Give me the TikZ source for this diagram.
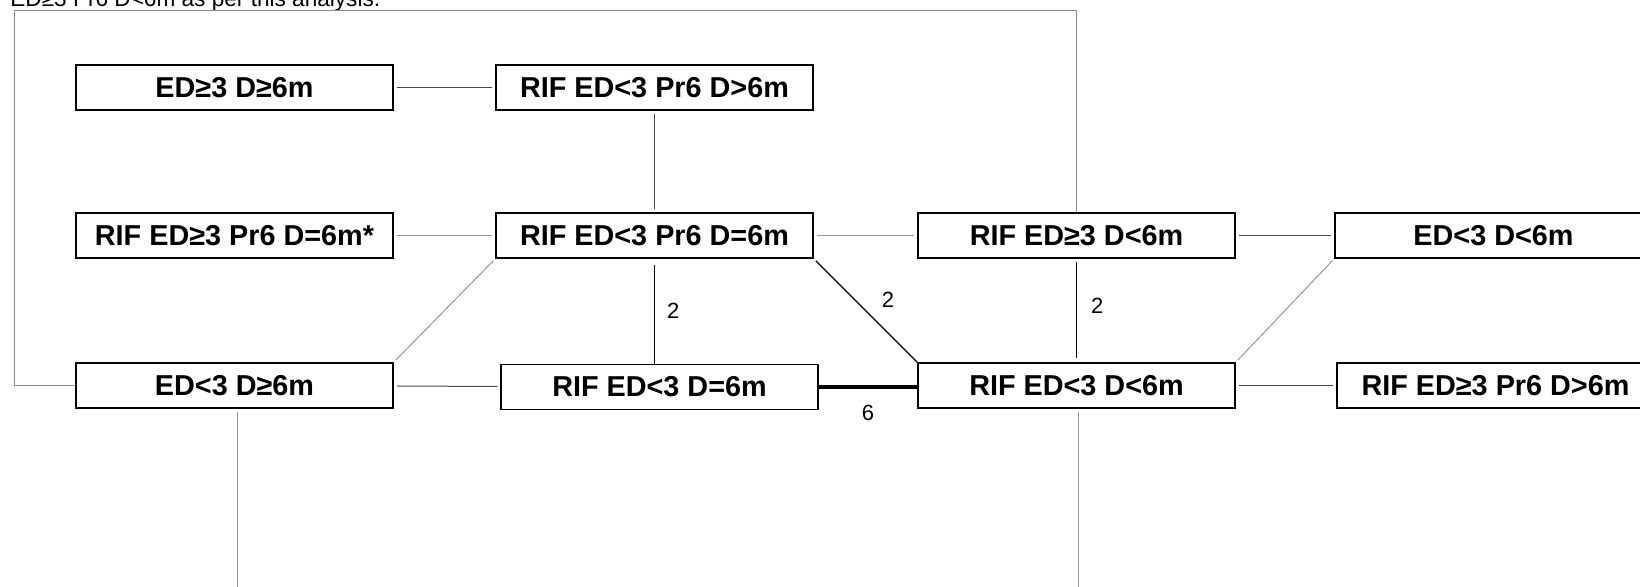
\documentclass[tikz,border=0pt]{standalone}
\usepackage{xcolor}
\usepackage{fontspec}
\usepackage{tikz}
\setmainfont{Liberation Sans}
\definecolor{framegray}{RGB}{140,140,140}
\definecolor{lightline}{RGB}{150,150,150}
\definecolor{darkline}{RGB}{70,70,70}

\tikzset{
  statebox/.style={draw=black,line width=0.75pt,fill=white,minimum width=158.5pt,minimum height=22.5pt,inner sep=0pt,font=\fontsize{14.4}{17}\selectfont\bfseries},
  lightedge/.style={draw=lightline,line width=0.5pt,shorten <=1.5pt,shorten >=1.5pt},
  darkedge/.style={draw=darkline,line width=0.5pt,shorten <=1.5pt,shorten >=1.5pt},
  countedge/.style={draw=black,line width=0.6pt,shorten <=1.5pt},
  countlabel/.style={font=\fontsize{11}{13}\selectfont,inner sep=1pt}
}

\begin{document}
\begin{tikzpicture}[x=0.5pt,y=-0.5pt]
\useasboundingbox (0,0) rectangle (1640,587);
\clip (0,0) rectangle (1640,587);
% Caption cut off at the top
\node[anchor=base west,font=\fontsize{11.3}{13}\selectfont,inner sep=0pt] (caption) at (10,7) {ED≥3 Pr6 D<6m as per this analysis.};
% Top row
\node[statebox] (hiLong) at (234.5,87.5) {ED≥3 D≥6m};
\node[statebox] (rifLoPrLong) at (654.5,87.5) {RIF ED<3 Pr6 D>6m};
% Middle row
\node[statebox] (rifHiPrEq) at (234.5,235.5) {RIF ED≥3 Pr6 D=6m*};
\node[statebox] (rifLoPrEq) at (654.5,235.5) {RIF ED<3 Pr6 D=6m};
\node[statebox] (rifHiShort) at (1076.5,235.5) {RIF ED≥3 D<6m};
\node[statebox] (loShort) at (1493.5,235.5) {ED<3 D<6m};
% Bottom row
\node[statebox] (loLong) at (234.5,385.5) {ED<3 D≥6m};
\node[statebox] (rifLoEq) at (659.5,387) {RIF ED<3 D=6m};
\node[statebox] (rifLoShort) at (1076.5,385.5) {RIF ED<3 D<6m};
\node[statebox] (rifHiPrLong) at (1495.5,385.5) {RIF ED≥3 Pr6 D>6m};
% Outer loop and loose ends
\coordinate (loopCorner) at (14,10.5);
\coordinate (loLongOut) at (237,600);
\coordinate (rifLoShortOut) at (1078,600);
\draw[framegray,line width=0.5pt] (loLong.west) -| (loopCorner) -| (rifHiShort.north);
\draw[lightedge,shorten >=0pt] (loLong.south -| loLongOut) -- (loLongOut);
\draw[lightedge,shorten >=0pt] (rifLoShort.south -| rifLoShortOut) -- (rifLoShortOut);
% Plain links
\draw[darkedge] (hiLong) -- (rifLoPrLong);
\draw[darkedge] (rifLoPrLong) -- (rifLoPrEq);
\draw[lightedge] (rifHiPrEq) -- (rifLoPrEq);
\draw[lightedge] (rifLoPrEq) -- (rifHiShort);
\draw[darkedge] (rifHiShort) -- (loShort);
\draw[lightedge] (rifLoPrEq.south west) -- (loLong.north east);
\draw[lightedge] (loShort.south west) -- (rifLoShort.north east);
\draw[darkedge] (loLong) -- (rifLoEq);
\draw[darkedge] (rifLoShort) -- (rifHiPrLong);
% Counted links
\draw[countedge,shorten <=3pt] (rifLoPrEq.south) -- node[countlabel,right=5pt] {2} (rifLoPrEq.south |- rifLoEq.north);
\draw[countedge] (rifLoPrEq.south east) -- node[countlabel,pos=0.4,right=12pt] {2} (rifLoShort.north west);
\draw[countedge,shorten >=2pt] (rifHiShort.south) -- node[countlabel,pos=0.45,right=6pt] {2} (rifLoShort.north);
\draw[black,line width=2pt] (rifLoEq.east) -- node[countlabel,below=7pt] {6} (rifLoShort.west |- rifLoEq.east);
\end{tikzpicture}
\end{document}
